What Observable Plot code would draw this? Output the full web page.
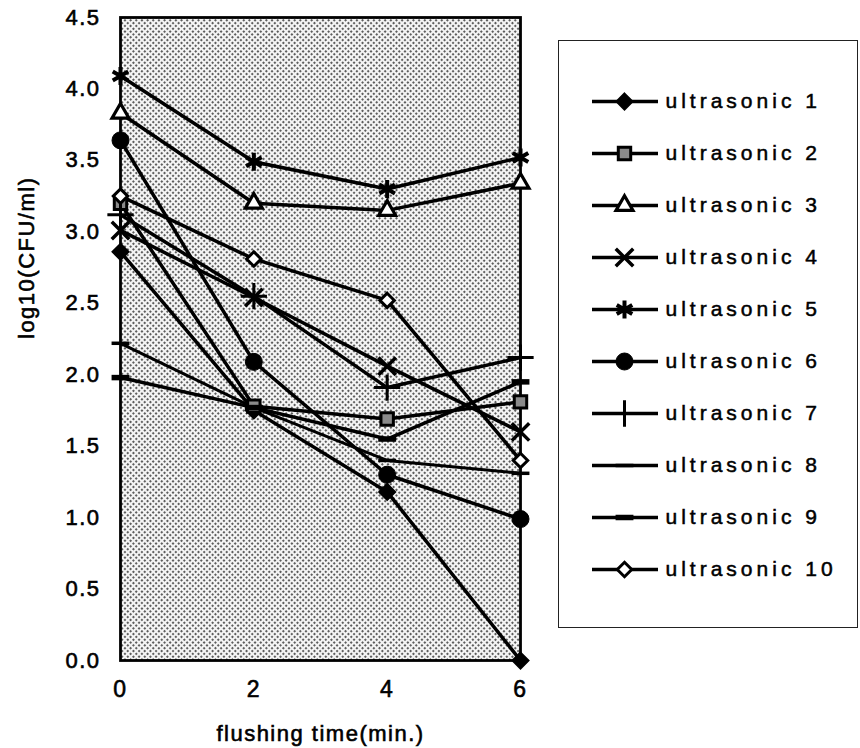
<!DOCTYPE html>
<html>
<head>
<meta charset="utf-8">
<script src="https://cdn.jsdelivr.net/npm/d3@7"></script>
<script src="https://cdn.jsdelivr.net/npm/@observablehq/plot@0.6"></script>
<style>
  html, body { margin: 0; padding: 0; background: #fff; }
  #wrap { position: relative; width: 860px; height: 748px; }
  #legend { position: absolute; left: 558px; top: 40px; width: 300px; height: 588px;
            border: 1.5px solid #222; box-sizing: border-box; background: #fff; }
  #legend svg, #chart svg { display: block; }
</style>
</head>
<body>
<div id="wrap">
  <div id="chart"></div>
  <div id="legend"></div>
</div>
<script>
// ---------- data ----------
const time = [0, 2, 4, 6];
const seriesNames = ["ultrasonic 1","ultrasonic 2","ultrasonic 3","ultrasonic 4","ultrasonic 5",
                     "ultrasonic 6","ultrasonic 7","ultrasonic 8","ultrasonic 9","ultrasonic 10"];
const u1  = [2.86, 1.75, 1.18, 0.00];
const u2  = [3.20, 1.78, 1.69, 1.81];
const u3  = [3.83, 3.20, 3.15, 3.34];
const u4  = [3.01, 2.54, 2.06, 1.60];
const u5  = [4.09, 3.49, 3.30, 3.52];
const u6  = [3.64, 2.09, 1.30, 0.99];
const u7  = [3.12, 2.55, 1.91, 2.12];
const u8  = [2.22, 1.77, 1.40, 1.31];
const u9  = [1.98, 1.77, 1.55, 1.95];
const u10 = [3.25, 2.81, 2.52, 1.40];
const xTicks = [0, 2, 4, 6];
const yTicks = [0, 0.5, 1, 1.5, 2, 2.5, 3, 3.5, 4, 4.5];
const xTitle = "flushing time(min.)";
const yTitle = "log10(CFU/ml)";

const seriesValues = [u1, u2, u3, u4, u5, u6, u7, u8, u9, u10];

// ---------- styles ----------
const dash = {
  draw(ctx, size) {
    const w = Math.sqrt(size) * 0.72;
    ctx.moveTo(-w, 0);
    ctx.lineTo(w, 0);
  }
};
const styles = [
  {symbol: "diamond2", r: 7.5, fill: "black", stroke: "black", sw: 1.5, lw: 3.5},
  {symbol: "square",   r: 7,   fill: "#8a8a8a", stroke: "black", sw: 3, lw: 3.5},
  {symbol: "triangle", r: 6.3, fill: "white", stroke: "black", sw: 3.2, lw: 3.5},
  {symbol: "times",    r: 8,   fill: "none",  stroke: "black", sw: 3.5, lw: 3.5},
  {symbol: "asterisk", r: 8.5, fill: "none",  stroke: "black", sw: 4, lw: 3.5},
  {symbol: "circle",   r: 8.5, fill: "black", stroke: "black", sw: 1, lw: 3.5},
  {symbol: "plus",     r: 8.5, fill: "none",  stroke: "black", sw: 3, lw: 3.5},
  {symbol: dash,       r: 7,   fill: "none",  stroke: "black", sw: 3.5, lw: 3},
  {symbol: dash,       r: 7,   fill: "none",  stroke: "black", sw: 5.5, lw: 3.5},
  {symbol: "diamond2", r: 6.5, fill: "white", stroke: "black", sw: 3, lw: 3.5}
];

// long table built from the arrays
const table = [];
seriesNames.forEach((name, i) => {
  seriesValues[i].forEach((v, j) => table.push({series: name, idx: i, t: time[j], v}));
});

const FONT = "'Liberation Sans', Arial, Helvetica, sans-serif";

// ---------- main chart ----------
const lineMarks = seriesNames.map((name, i) =>
  Plot.line(table.filter(d => d.idx === i), {
    x: "t", y: "v", stroke: "black", strokeWidth: styles[i].lw, strokeLinejoin: "round"
  })
);
const dotMarks = seriesNames.map((name, i) =>
  Plot.dot(table.filter(d => d.idx === i), {
    x: "t", y: "v", symbol: styles[i].symbol, r: styles[i].r,
    fill: styles[i].fill, stroke: styles[i].stroke, strokeWidth: styles[i].sw
  })
);

const chart = Plot.plot({
  width: 860,
  height: 748,
  marginLeft: 120,
  marginRight: 340,
  marginTop: 17,
  marginBottom: 88,
  style: {fontFamily: FONT, fontSize: "22px", color: "black", background: "white"},
  x: {domain: [0, 6]},
  y: {domain: [0, 4.5]},
  marks: [
    Plot.frame({fill: "url(#halftone)", stroke: "black", strokeWidth: 2.8}),
    Plot.axisX({ticks: xTicks, tickSize: 0, tickPadding: 20, label: null, fontSize: 23,
                tickFormat: d => String(d)}),
    Plot.axisY({ticks: yTicks, tickSize: 0, tickPadding: 20, label: null,
                tickFormat: d3.format(".1f"), fontSize: 22}),
    ...lineMarks,
    ...dotMarks,
    Plot.text([xTitle], {text: d => d, frameAnchor: "bottom", dy: 80, fontSize: 22}),
    Plot.text([yTitle], {text: d => d, frameAnchor: "left", rotate: -90, dx: -94, fontSize: 22})
  ]
});

// halftone pattern
const ns = "http://www.w3.org/2000/svg";
const defs = document.createElementNS(ns, "defs");
defs.innerHTML = `<pattern id="halftone" width="4" height="4" patternUnits="userSpaceOnUse" patternTransform="rotate(45)">
  <rect width="4" height="4" fill="#f4f4f4"></rect>
  <circle cx="2" cy="2" r="1.0" fill="#2a2a2a"></circle>
</pattern>`;
chart.insertBefore(defs, chart.firstChild);
chart.querySelectorAll("text").forEach(t => {
  t.setAttribute("letter-spacing", "1.5");
  t.setAttribute("stroke", "black");
  t.setAttribute("stroke-width", "0.6");
});
document.getElementById("chart").appendChild(chart);

// ---------- legend ----------
const legendRows = seriesNames.map((name, i) => ({name, idx: i}));
const legend = Plot.plot({
  width: 297,
  height: 585,
  margin: 0,
  style: {fontFamily: FONT, fontSize: "21px", background: "white"},
  x: {domain: [0, 297], range: [0, 297], axis: null},
  y: {type: "point", domain: seriesNames, range: [31, 556], axis: null},
  marks: [
    Plot.ruleY(legendRows, {y: "name", x1: 33, x2: 99, stroke: "black", strokeWidth: 3.5}),
    ...legendRows.map(row => Plot.dot([row], {
      x: 65, y: "name", symbol: styles[row.idx].symbol, r: styles[row.idx].r,
      fill: styles[row.idx].fill, stroke: styles[row.idx].stroke, strokeWidth: styles[row.idx].sw
    })),
    Plot.text(legendRows, {x: 106, y: "name", text: "name", textAnchor: "start", fontSize: 21})
  ]
});
legend.querySelectorAll("text").forEach(t => {
  t.setAttribute("letter-spacing", "4");
  t.setAttribute("stroke", "black");
  t.setAttribute("stroke-width", "0.5");
});
document.getElementById("legend").appendChild(legend);
</script>
</body>
</html>
